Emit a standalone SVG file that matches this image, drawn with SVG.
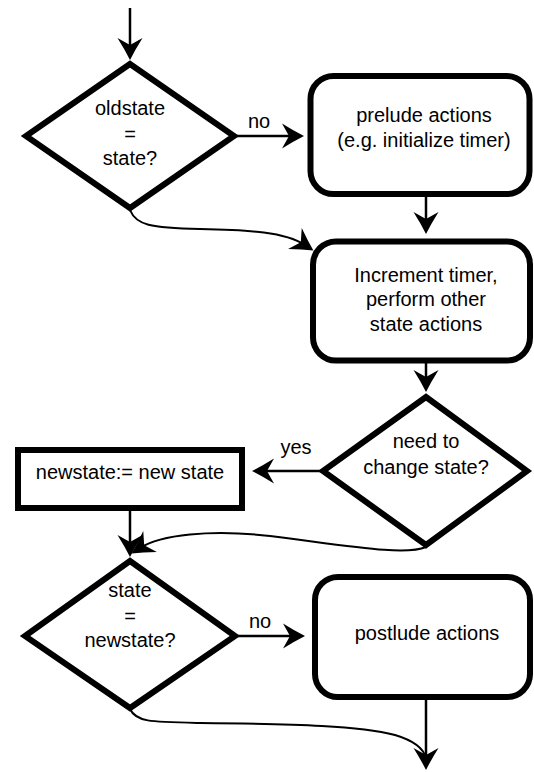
<svg xmlns="http://www.w3.org/2000/svg" width="534" height="772" viewBox="0 0 534 772">
<style>
.shape{fill:#fff;stroke:#000;stroke-width:6;stroke-linejoin:miter;stroke-miterlimit:10}
.conn{fill:none;stroke:#000;stroke-width:2.5}
.curve{fill:none;stroke:#000;stroke-width:2}
text{font-family:"Liberation Sans",Arial,sans-serif;font-size:20px;fill:#000;text-anchor:middle}
</style>
<defs>
<marker id="ah" markerUnits="userSpaceOnUse" markerWidth="24" markerHeight="26" viewBox="0 -13 24 26" refX="12" refY="0" orient="auto" overflow="visible">
<path d="M22,0 Q12,-5 0,-12.5 L7,0 L0,12.5 Q12,5 22,0Z" fill="#000"/>
</marker>
</defs>
<rect width="534" height="772" fill="#fff"/>
<g id="connectors">
<line class="conn" x1="130" y1="8" x2="130" y2="50" marker-end="url(#ah)"/>
<line class="conn" x1="235" y1="136" x2="294" y2="136" marker-end="url(#ah)"/>
<line class="conn" x1="426" y1="196" x2="426" y2="224" marker-end="url(#ah)"/>
<line class="conn" x1="426" y1="362" x2="426" y2="382" marker-end="url(#ah)"/>
<line class="conn" x1="322" y1="471" x2="262" y2="471" marker-end="url(#ah)"/>
<line class="conn" x1="130" y1="510" x2="130" y2="547" marker-end="url(#ah)"/>
<line class="conn" x1="236" y1="636" x2="295" y2="636" marker-end="url(#ah)"/>
<line class="conn" x1="426" y1="699" x2="426" y2="760" marker-end="url(#ah)"/>
<path class="curve" d="M130,210 C136,225 150,228 200,229 C250,230 285,232 305,245" marker-end="url(#ah)"/>
<path class="curve" d="M426,547 C405,556 350,546 270,536 C210,529 160,535 140,548" marker-end="url(#ah)"/>
<path class="curve" d="M130,709 C136,722 150,722 200,723 C300,724 360,726 395,735 C415,741 424,750 426,758"/>
</g>
<g id="d1">
<polygon class="shape" points="130,64 234,136 130,208 26,136"/>
<text x="130" y="115">oldstate</text>
<text x="130" y="141">=</text>
<text x="130" y="165">state?</text>
</g>
<g id="lbl-no1"><text x="259" y="128">no</text></g>
<g id="b1">
<rect class="shape" x="310.5" y="76" width="219" height="118" rx="23"/>
<text x="424" y="122">prelude actions</text>
<text x="424" y="147">(e.g. initialize timer)</text>
</g>
<g id="b2">
<rect class="shape" x="313" y="241.5" width="217" height="119" rx="23"/>
<text x="426" y="282">Increment timer,</text>
<text x="426" y="306">perform other</text>
<text x="426" y="331">state actions</text>
</g>
<g id="d2">
<polygon class="shape" points="426,397 527,471 426,545 323,471"/>
<text x="426" y="448">need to</text>
<text x="426" y="474">change state?</text>
</g>
<g id="lbl-yes"><text x="296" y="454">yes</text></g>
<g id="r1">
<rect class="shape" x="18" y="450" width="224" height="58"/>
<text x="130" y="479">newstate:= new state</text>
</g>
<g id="d3">
<polygon class="shape" points="130,561 235,636 130,708 25,636"/>
<text x="130" y="597">state</text>
<text x="130" y="623">=</text>
<text x="130" y="647">newstate?</text>
</g>
<g id="lbl-no2"><text x="260" y="628">no</text></g>
<g id="b3">
<rect class="shape" x="315" y="577" width="215" height="120" rx="23"/>
<text x="427" y="640">postlude actions</text>
</g>
</svg>
